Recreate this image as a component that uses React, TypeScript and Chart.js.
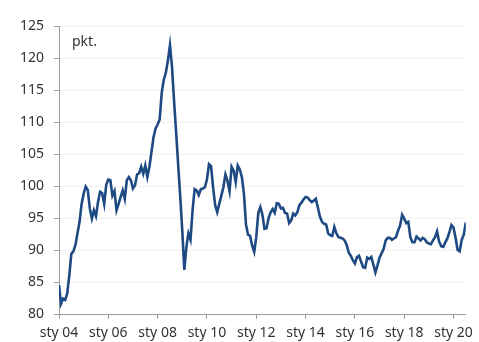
import { useEffect, useRef } from "react";
import { Chart, registerables } from "chart.js";

Chart.register(...registerables);

// Monthly index values, January 2004 onwards
const indexValues: number[] = [
  // 2004
  84.5, 81.6, 82.4, 82.2, 83.2, 86.0, 89.4, 89.8, 90.8, 92.6, 94.4, 97.2,
  // 2005
  98.8, 99.9, 99.4, 96.5, 94.9, 96.2, 95.3, 97.5, 99.1, 98.9, 97.2, 100.2,
  // 2006
  101.0, 100.9, 98.5, 99.2, 96.2, 97.2, 98.3, 99.3, 98.0, 100.9, 101.4, 100.9,
  // 2007
  99.6, 100.1, 101.8, 102.0, 103.0, 101.9, 103.2, 101.4, 103.0, 105.3, 107.6, 109.0,
  // 2008
  109.6, 110.4, 114.6, 116.6, 117.7, 119.6, 122.0, 118.6, 113.3, 108.4, 103.3, 98.4,
  // 2009
  93.0, 86.9, 90.5, 92.6, 91.6, 96.2, 99.5, 99.3, 98.6, 99.5, 99.6, 99.8,
  // 2010
  101.0, 103.4, 103.1, 99.8, 97.0, 95.9, 97.2, 98.5, 99.8, 101.8, 100.8, 99.2,
  // 2011
  103.0, 102.4, 100.6, 103.2, 102.6, 101.4, 98.8, 94.0, 92.4, 92.2, 90.7, 89.7,
  // 2012
  92.0, 95.8, 96.7, 95.5, 93.3, 93.4, 95.0, 95.9, 96.4, 95.8, 97.3, 97.2,
  // 2013
  96.5, 96.6, 95.8, 95.7, 94.2, 94.6, 95.7, 95.4, 95.9, 97.0, 97.4, 97.9,
  // 2014
  98.3, 98.2, 97.8, 97.5, 97.7, 98.0, 96.6, 95.2, 94.4, 94.1, 94.0, 92.6,
  // 2015
  92.3, 92.2, 93.6, 92.6, 92.0, 91.9, 91.8, 91.5, 90.8, 89.6, 89.1, 88.4,
  // 2016
  87.9, 88.9, 89.1, 88.2, 87.3, 87.2, 88.8, 88.6, 88.9, 87.7, 86.5, 87.6,
  // 2017
  88.8, 89.5, 90.2, 91.5, 91.9, 91.9, 91.6, 91.8, 92.0, 93.0, 93.8, 95.5,
  // 2018
  94.9, 94.2, 94.4, 92.0, 91.2, 91.2, 92.1, 91.8, 91.5, 91.9, 91.7, 91.2,
  // 2019
  91.0, 90.9, 91.5, 92.0, 92.9, 91.3, 90.6, 90.5, 91.2, 91.8, 92.8, 93.9,
  // 2020
  93.5, 91.9, 90.0, 89.8, 91.6, 92.4, 94.3,
];

// Month positions (counted from January 2004) carrying axis labels
const tickMonths: number[] = [0, 24, 48, 72, 96, 120, 144, 168, 192];
const tickLabels: string[] = [
  "sty 04", "sty 06", "sty 08", "sty 10", "sty 12",
  "sty 14", "sty 16", "sty 18", "sty 20",
];

const yMin = 80;
const yMax = 125;
const yStep = 5;
const unitLabel = "pkt.";

const FONT_FAMILY = "'Noto Sans', 'Open Sans', sans-serif";
const TEXT_COLOR = "#333333";
const AXIS_COLOR = "#9c9c9c";
const LINE_COLOR = "#1d4a82";

const unitLabelPlugin = {
  id: "unitLabel",
  afterDraw(chart: any) {
    const { ctx, chartArea } = chart;
    ctx.save();
    ctx.font = `14px ${FONT_FAMILY}`;
    ctx.fillStyle = TEXT_COLOR;
    ctx.textAlign = "left";
    ctx.textBaseline = "alphabetic";
    ctx.fillText(unitLabel, chartArea.left + 13, chartArea.top + 20);
    ctx.restore();
  },
};

export default function App() {
  const canvasRef = useRef<HTMLCanvasElement | null>(null);

  useEffect(() => {
    const canvas = canvasRef.current;
    if (!canvas) return;

    const points = indexValues.map((v, i) => ({ x: i, y: v }));
    const font = { family: FONT_FAMILY, size: 14 };

    const chart = new Chart(canvas, {
      type: "line",
      data: {
        datasets: [
          {
            data: points,
            borderColor: LINE_COLOR,
            borderWidth: 2.6,
            pointRadius: 0,
            tension: 0,
            fill: false,
          },
        ],
      },
      plugins: [unitLabelPlugin],
      options: {
        responsive: false,
        animation: false,
        layout: { padding: { top: 26, right: 7, left: 0, bottom: 0 } },
        plugins: {
          legend: { display: false },
          tooltip: { enabled: false },
        },
        scales: {
          x: {
            type: "linear",
            min: 0,
            max: indexValues.length - 1,
            afterBuildTicks: (scale: any) => {
              scale.ticks = tickMonths.map((m) => ({ value: m }));
            },
            afterFit: (scale: any) => {
              scale.height = 28;
            },
            ticks: {
              autoSkip: false,
              maxRotation: 0,
              padding: 6,
              color: TEXT_COLOR,
              font,
              callback: (_v: any, index: number) => tickLabels[index] ?? "",
            },
            grid: {
              drawOnChartArea: false,
              drawTicks: true,
              tickLength: 5,
              tickColor: AXIS_COLOR,
            },
            border: { color: AXIS_COLOR, width: 1 },
          },
          y: {
            min: yMin,
            max: yMax,
            afterFit: (scale: any) => {
              scale.width = 59;
            },
            ticks: {
              stepSize: yStep,
              padding: 10,
              color: TEXT_COLOR,
              font,
            },
            grid: {
              color: "#efefef",
              lineWidth: 1,
              tickLength: 5,
              tickColor: AXIS_COLOR,
            },
            border: { color: AXIS_COLOR, width: 1 },
          },
        },
      },
    } as any);

    return () => chart.destroy();
  }, []);

  return (
    <div style={{ position: "absolute", left: 0, top: 0, width: 479, height: 342, background: "#ffffff" }}>
      <canvas ref={canvasRef} width={479} height={342} />
    </div>
  );
}
